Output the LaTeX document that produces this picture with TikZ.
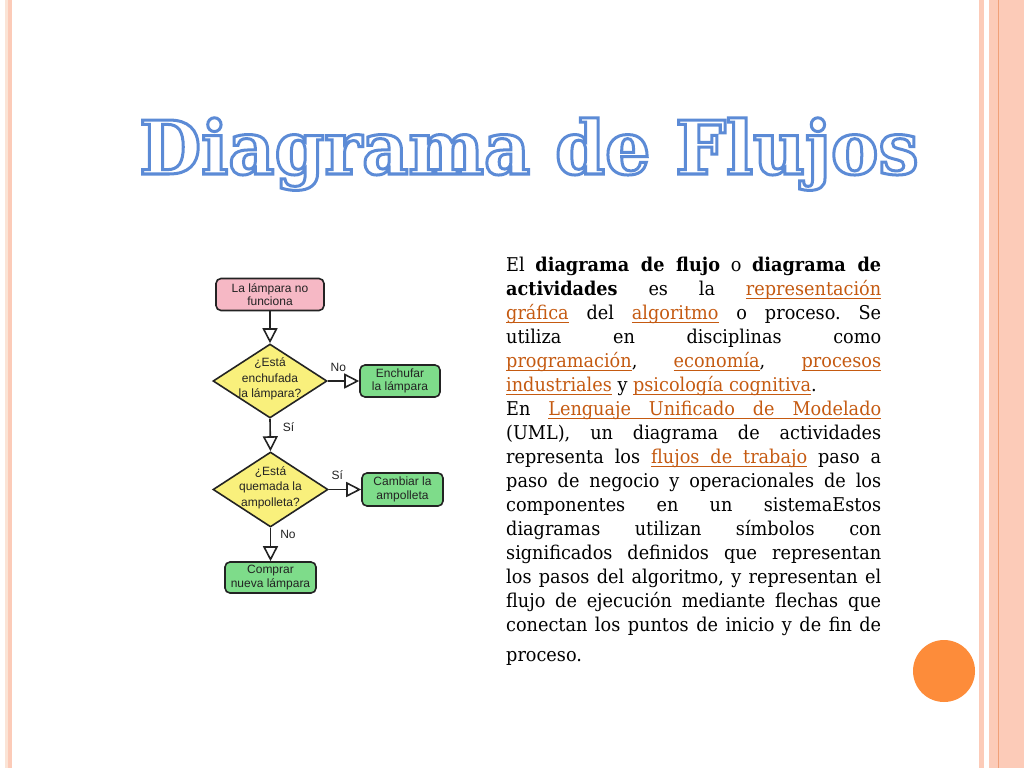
\documentclass[tikz,border=0pt]{standalone}
\usepackage{fontspec}
\usetikzlibrary{shapes.geometric,arrows.meta}
\setmainfont{Liberation Sans}
\newfontfamily\titlefont[FakeStretch=0.965]{DejaVu Serif}
\newfontfamily\bodyfont[FakeStretch=0.93]{DejaVu Serif}
\newfontfamily\chartfont{Liberation Sans}
\definecolor{stripeA}{RGB}{252,203,184}
\definecolor{stripeB}{RGB}{251,228,214}
\definecolor{stripeD}{RGB}{240,160,120}
\definecolor{orangedot}{RGB}{253,140,58}
\definecolor{linkc}{RGB}{197,90,17}
\definecolor{pinkbox}{RGB}{246,184,197}
\definecolor{yellowbox}{RGB}{249,240,124}
\definecolor{greenbox}{RGB}{126,220,138}
\definecolor{ink}{RGB}{35,35,35}
\newcommand{\ulword}[1]{\setbox0\hbox{#1}\rlap{\rule[-3.8pt]{\wd0}{1.3pt}}\box0}
\newcommand{\lnk}[1]{{\color{linkc}\ulword{#1}}}
\newcommand{\lsp}{{\color{linkc}\leaders\hrule height -2.5pt depth 3.8pt\hskip\fontdimen2\font plus\fontdimen3\font minus\fontdimen4\font}}
\newcommand{\outlinetext}[1]{\special{pdf:literal direct 2 Tr 3 w 0.361 0.545 0.839 RG}#1\special{pdf:literal direct 0 Tr}}
\tikzset{
  titlestyle/.style={font=\titlefont\bfseries\fontsize{74}{80}\selectfont, anchor=base, inner sep=0pt},
  boxstyle/.style={draw=ink, line width=1.6pt, rounded corners=5pt, font=\chartfont\fontsize{12}{13.5}\selectfont, align=center, inner sep=0pt, text=ink},
  decision/.style={draw=ink, line width=1.6pt, shape=diamond, fill=yellowbox, inner sep=0pt, minimum width=114pt, minimum height=74pt},
  dtext/.style={font=\chartfont\fontsize{12}{15.5}\selectfont, align=center, text=ink, inner sep=0pt},
  arr/.style={draw=ink, line width=1.6pt, -{Triangle[width=15pt,length=15pt,fill=white]}},
  lbl/.style={font=\chartfont\fontsize{12}{14}\selectfont, text=ink, inner sep=0pt},
}
\begin{document}
\begin{tikzpicture}[x=1pt,y=-1pt]
\useasboundingbox (0,0) rectangle (1024,768);
\fill[white] (0,0) rectangle (1024,768);
% left stripes
\fill[stripeB] (5,0) rectangle (8.3,768);
\fill[stripeA] (8.3,0) rectangle (12,768);
% right stripes
\fill[stripeA] (979,0) rectangle (983.5,768);
\fill[stripeA] (989,0) rectangle (1024,768);
\fill[stripeD] (998,0) rectangle (999.2,768);
% orange dot
\fill[orangedot] (944,671) circle (31);
% title
\node[titlestyle, text=white] (title) at (529,174) {\outlinetext{Diagrama de Flujos}};
% flowchart
\node[boxstyle, fill=pinkbox, minimum width=108pt, minimum height=32pt] (start) at (270,294.5) {La lámpara no\\funciona};
\node[decision] (d1) at (270,381) {};
\node[dtext] (d1t) at (270,379) {¿Está\\enchufada\\la lámpara?};
\node[boxstyle, fill=greenbox, minimum width=80pt, minimum height=32pt] (e1) at (400,381) {Enchufar\\la lámpara};
\node[decision, minimum width=115pt, minimum height=75pt] (d2) at (270.5,489.5) {};
\node[dtext] (d2t) at (270.5,487.5) {¿Está\\quemada la\\ampolleta?};
\node[boxstyle, fill=greenbox, minimum width=81pt, minimum height=33pt] (c1) at (402.5,489.5) {Cambiar la\\ampolleta};
\node[boxstyle, fill=greenbox, minimum width=91pt, minimum height=31pt] (p1) at (270.5,577.5) {Comprar\\nueva lámpara};
\draw[arr] (start.south) -- (d1.north);
\draw[arr] (d1.east) -- node[lbl, pos=0, anchor=south west, xshift=2pt, yshift=9pt] (l1) {No} (e1.west);
\draw[arr] (d1.south) -- node[lbl, pos=0, anchor=north west, xshift=12pt, yshift=-3pt] (l2) {Sí} (d2.north);
\draw[arr] (d2.east) -- node[lbl, pos=0, anchor=south west, xshift=2pt, yshift=9pt] (l3) {Sí} (c1.west);
\draw[arr] (d2.south) -- node[lbl, pos=0, anchor=north west, xshift=9pt, yshift=-2pt] (l4) {No} (p1.north);
% body text
\node[anchor=north west, text width=375pt, align=justify, inner sep=0pt, text=black,
      font=\bodyfont\fontsize{19}{24}\selectfont] (body) at (506,257) {%
\tolerance=10000\hyphenpenalty=10000\exhyphenpenalty=10000\frenchspacing
El \textbf{diagrama de flujo} o \textbf{diagrama de}\linebreak
\textbf{actividades} es la \lnk{representación}\linebreak
\lnk{gráfica} del \lnk{algoritmo} o proceso. Se\linebreak
utiliza en disciplinas como\linebreak
\lnk{programación}, \lnk{economía}, \lnk{procesos}\linebreak
\lnk{industriales} y \lnk{psicología}\lsp\lnk{cognitiva}.\par
En \lnk{Lenguaje}\lsp\lnk{Unificado}\lsp\lnk{de}\lsp\lnk{Modelado}\linebreak
(UML), un diagrama de actividades\linebreak
representa los \lnk{flujos}\lsp\lnk{de}\lsp\lnk{trabajo} paso a\linebreak
paso de negocio y operacionales de los\linebreak
componentes en un sistemaEstos\linebreak
diagramas utilizan símbolos con\linebreak
significados definidos que representan\linebreak
los pasos del algoritmo, y representan el\linebreak
flujo de ejecución mediante flechas que\linebreak
conectan los puntos de inicio y de fin de\vadjust{\vskip 6pt}\linebreak
proceso.};
\end{tikzpicture}
\end{document}
